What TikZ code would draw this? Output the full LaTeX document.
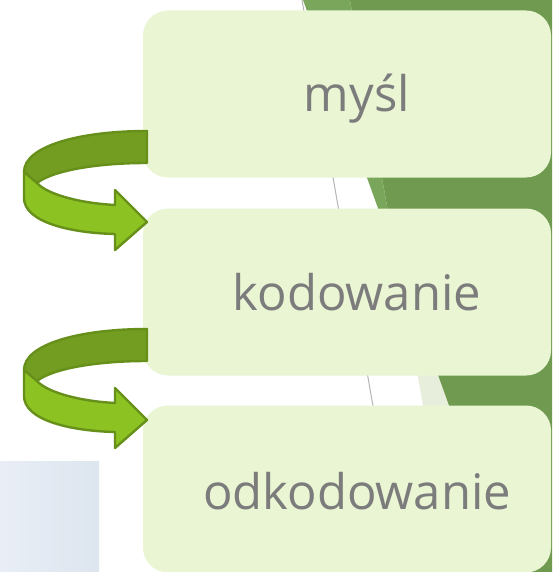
\documentclass[tikz,border=0pt]{standalone}
\usepackage{fontspec}
\setmainfont{Open Sans}
\definecolor{bgdark}{HTML}{6F9A50}
\definecolor{bglight}{HTML}{79A65B}
\definecolor{bgpale}{HTML}{E8EEDC}
\definecolor{boxfill}{HTML}{E9F5D3}
\definecolor{txtgray}{HTML}{7C7C7C}
\definecolor{arrdark}{HTML}{739D21}
\definecolor{arrlight}{HTML}{8DC223}
\definecolor{arrline}{HTML}{66901A}
\definecolor{linegray}{HTML}{B4B4B4}
\definecolor{blueA}{HTML}{E9EEF6}
\definecolor{blueB}{HTML}{DDE5EE}
\tikzset{
  stepbox/.style={rectangle, rounded corners=25pt, fill=boxfill, draw=none, inner sep=0pt,
    minimum width=408pt, minimum height=167pt},
  steptext/.style={anchor=base, text=txtgray, font=\fontsize{49}{55}\selectfont, inner sep=0pt},
  ribbonback/.style={fill=arrdark, draw=arrline, line width=2.4pt, line join=round},
  ribbonfront/.style={fill=arrlight, draw=arrline, line width=2.4pt, line join=round},
  uturn/.pic={
    \path[ribbonback] (147,131) .. controls (80,131) and (24,146) .. (24,172)
      -- (37,183) .. controls (52,171) and (95,163) .. (147,163) -- cycle;
    \path[ribbonfront] (24,172) -- (24,198) .. controls (24,222) and (70,233) .. (115,234)
      -- (115,250) -- (147,222) -- (115,190) -- (115,205)
      .. controls (78,203) and (47,194) .. (37,183) -- cycle;
  }
}
\begin{document}
\begin{tikzpicture}[x=1pt,y=-1pt]
\useasboundingbox (0,0) rectangle (552,572);
% background shapes
\fill[bglight] (303,0) -- (552,0) -- (552,572) -- (509,572) -- cycle;
\fill[bgpale] (350,0) -- (552,0) -- (552,572) -- (453,572) -- cycle;
\begin{scope}
  \clip (350,0) -- (552,0) -- (552,572) -- (453,572) -- cycle;
  \fill[bgdark] (303,0) -- (552,0) -- (552,572) -- (509,572) -- cycle;
\end{scope}
\draw[linegray, line width=1pt] (302,0) -- (402,572);
\fill[left color=blueA, right color=blueB] (0,461) rectangle (99,572);
% boxes
\node[stepbox] (b1) at (347,94) {};
\node[stepbox] (b2) at (347,292) {};
\node[stepbox] (b3) at (347,489) {};
\node[steptext] (t1) at (357,112) {myśl};
\node[steptext] (t2) at (357,310) {kodowanie};
\node[steptext] (t3) at (357,509) {odkodowanie};
% arrows
\pic at (0,0) {uturn};
\pic at (0,198) {uturn};
\end{tikzpicture}
\end{document}
